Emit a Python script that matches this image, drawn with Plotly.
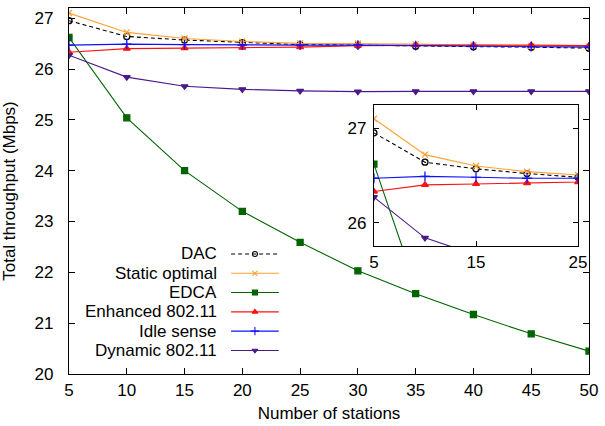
import plotly.graph_objects as go

# ---- data ----
stations = [5, 10, 15, 20, 25, 30, 35, 40, 45, 50]
dac = [26.95, 26.64, 26.57, 26.52, 26.48, 26.47, 26.45, 26.44, 26.43, 26.41]
static_opt = [27.10, 26.72, 26.60, 26.54, 26.505, 26.50, 26.49, 26.47, 26.45, 26.44]
edca = [26.62, 25.04, 24.00, 23.20, 22.59, 22.03, 21.58, 21.17, 20.79, 20.45]
enhanced = [26.33, 26.40, 26.41, 26.42, 26.43, 26.46, 26.47, 26.47, 26.47, 26.46]
idle_sense = [26.47, 26.49, 26.48, 26.47, 26.47, 26.47, 26.46, 26.45, 26.44, 26.43]
dynamic = [26.27, 25.84, 25.66, 25.60, 25.57, 25.555, 25.56, 25.56, 25.56, 25.56]

names = ["DAC", "Static optimal", "EDCA", "Enhanced 802.11", "Idle sense", "Dynamic 802.11"]
series = [dac, static_opt, edca, enhanced, idle_sense, dynamic]

main_xticks = [5, 10, 15, 20, 25, 30, 35, 40, 45, 50]
main_yticks = [20, 21, 22, 23, 24, 25, 26, 27]
inset_xticks = [5, 15, 25]
inset_yticks = [26, 27]

# ---- styles ----
colors = ["#000000", "#ffa030", "#006400", "#ff1010", "#1010ff", "#4b1a8a"]
dashes = ["dash", "solid", "solid", "solid", "solid", "solid"]
symbols = ["circle-open", "x-thin-open", "square", "triangle-up", "cross-thin-open", "triangle-down"]
msizes = [6, 6, 6, 6, 7, 6]
FONT = "Liberation Sans, Arial, sans-serif"
FS = 17

W, H = 605, 426
ML, MR, MT, MB = 69, 13, 7, 50
PW, PH = W - ML - MR, H - MT - MB

fig = go.Figure()

for axes in [("x", "y"), ("x2", "y2")]:
    for nm, ys, c, d, s, ms in zip(names, series, colors, dashes, symbols, msizes):
        fig.add_trace(go.Scatter(
            x=stations, y=ys, mode="lines+markers", name=nm,
            xaxis=axes[0], yaxis=axes[1], showlegend=False,
            line=dict(color=c, width=1.1, dash=d if d == "solid" else "4px,3px"),
            marker=dict(symbol=s, size=ms, color=c, line=dict(color=c, width=1.3)),
            cliponaxis=True,
        ))

# ---- custom gnuplot-style key (text left, sample right) ----
key_text_right = 151
key_line = (163, 211)
key_top = 121
key_step = 19.45
annotations = []
for i, (nm, c, d, s, ms) in enumerate(zip(names, colors, dashes, symbols, msizes)):
    yy = key_top - i * key_step
    fig.add_trace(go.Scatter(
        x=[key_line[0], key_line[1]], y=[yy, yy], mode="lines",
        xaxis="x3", yaxis="y3", showlegend=False, hoverinfo="skip",
        line=dict(color=c, width=1.1, dash=d if d == "solid" else "4px,3px"),
    ))
    fig.add_trace(go.Scatter(
        x=[(key_line[0] + key_line[1]) / 2], y=[yy], mode="markers",
        xaxis="x3", yaxis="y3", showlegend=False, hoverinfo="skip",
        marker=dict(symbol=s, size=ms - 1, color=c, line=dict(color=c, width=1.1)),
    ))
    annotations.append(dict(
        x=key_text_right / PW, y=yy / PH, xref="paper", yref="paper",
        xanchor="right", yanchor="middle", text=nm, showarrow=False,
        font=dict(family=FONT, size=FS, color="#000000"),
    ))

axis_common = dict(
    showline=True, linecolor="#000000", linewidth=1.3, mirror="ticks",
    ticks="inside", tickcolor="#000000", tickwidth=1, showgrid=False,
    zeroline=False, tickfont=dict(family=FONT, size=FS, color="#000000"),
)

fig.update_layout(
    width=W, height=H,
    margin=dict(l=ML, r=MR, t=MT, b=MB),
    paper_bgcolor="white", plot_bgcolor="white",
    xaxis=dict(axis_common, domain=[0, 1], range=[5, 50], tickvals=main_xticks, ticklen=6,
               title=dict(text="Number of stations", font=dict(family=FONT, size=FS, color="#000000"),
                          standoff=8)),
    yaxis=dict(axis_common, domain=[0, 1], range=[20, 27.2], tickvals=main_yticks, ticklen=6,
               ticklabelstandoff=11,
               title=dict(text="Total throughput (Mbps)", font=dict(family=FONT, size=FS, color="#000000"),
                          standoff=15)),
    xaxis2=dict(axis_common, domain=[0.5864, 0.979], range=[5, 25], tickvals=inset_xticks,
                ticklen=5, anchor="y2"),
    yaxis2=dict(axis_common, domain=[0.3488, 0.7363], range=[25.75, 27.25], tickvals=inset_yticks,
                ticklen=5, anchor="x2", ticklabelstandoff=3),
    xaxis3=dict(range=[0, PW], visible=False, anchor="y3", overlaying="x", fixedrange=True),
    yaxis3=dict(range=[0, PH], visible=False, anchor="x3", overlaying="y", fixedrange=True),
    annotations=annotations,
    showlegend=False,
)

fig.write_html("out.html")
